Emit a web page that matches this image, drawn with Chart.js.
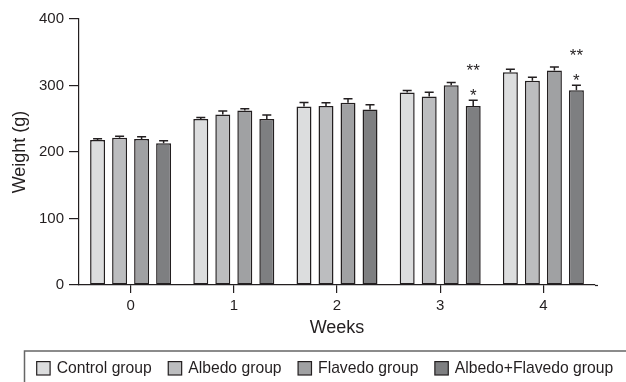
<!DOCTYPE html>
<html>
<head>
<meta charset="utf-8">
<script src="https://cdn.jsdelivr.net/npm/chart.js@4"></script>
<style>
  html, body { margin: 0; padding: 0; background: #fff; }
  #wrap { width: 626px; height: 382px; }
</style>
</head>
<body>
<div id="wrap"><canvas id="chart" width="626" height="382"></canvas></div>
<script>
const weeks = ['0', '1', '2', '3', '4'];
const groupNames = ['Control group', 'Albedo group', 'Flavedo group', 'Albedo+Flavedo group'];
const groupColors = ['#dcddde', '#bcbdbf', '#a0a1a3', '#7e7f81'];

const controlMean = [218, 249.5, 268.5, 289.5, 320];
const albedoMean = [221.5, 256.5, 269, 283.5, 307];
const flavedoMean = [219.5, 262.5, 274, 300.5, 322.5];
const comboMean = [213, 249.5, 264, 269, 293];

const controlErr = [2, 2.5, 6, 3, 4.5];
const albedoErr = [2, 5, 5, 6.5, 5.5];
const flavedoErr = [3.5, 2.5, 6, 4, 5.5];
const comboErr = [4, 6, 7, 9, 7.5];

// significance marks above the Albedo+Flavedo bars
const comboSigNear = ['', '', '', '*', '*'];
const comboSigFar = ['', '', '', '**', '**'];

const yTicks = [0, 100, 200, 300, 400];

const ink = '#231f20';
const fontFamily = '"Liberation Sans", Arial, Helvetica, sans-serif';

const means = [controlMean, albedoMean, flavedoMean, comboMean];
const errs = [controlErr, albedoErr, flavedoErr, comboErr];

const errorBars = {
  id: 'errorBars',
  afterDatasetsDraw(chart) {
    const ctx = chart.ctx;
    const y = chart.scales.y;
    ctx.save();
    ctx.strokeStyle = ink;
    ctx.lineWidth = 1.5;
    chart.data.datasets.forEach((ds, i) => {
      const meta = chart.getDatasetMeta(i);
      meta.data.forEach((bar, j) => {
        const top = y.getPixelForValue(ds.data[j] + errs[i][j]);
        ctx.beginPath();
        ctx.moveTo(bar.x, bar.y);
        ctx.lineTo(bar.x, top);
        ctx.moveTo(bar.x - 4.5, top);
        ctx.lineTo(bar.x + 4.5, top);
        ctx.stroke();
      });
    });
    // asterisks
    const comboMeta = chart.getDatasetMeta(3);
    ctx.fillStyle = ink;
    ctx.font = '17px ' + fontFamily;
    ctx.textAlign = 'center';
    ctx.textBaseline = 'alphabetic';
    comboMeta.data.forEach((bar, j) => {
      const top = y.getPixelForValue(comboMean[j] + comboErr[j]);
      if (comboSigNear[j]) ctx.fillText(comboSigNear[j], bar.x, top - 9 + 10);
      if (comboSigFar[j]) ctx.fillText(comboSigFar[j], bar.x, top - 34 + 10);
    });
    ctx.restore();
  }
};

const boxLegend = {
  id: 'boxLegend',
  afterDraw(chart) {
    const ctx = chart.ctx;
    const area = chart.chartArea;
    ctx.save();
    // x axis runs a little past the last category
    ctx.strokeStyle = ink;
    ctx.lineWidth = 1.2;
    ctx.beginPath();
    ctx.moveTo(area.right, area.bottom + 0.5);
    ctx.lineTo(area.right + 3, area.bottom + 0.5);
    ctx.stroke();

    ctx.strokeStyle = '#666';
    ctx.lineWidth = 1.5;
    ctx.strokeRect(24.5, 351, 700, 100);
    ctx.font = '15.7px ' + fontFamily;
    ctx.textBaseline = 'middle';
    ctx.textAlign = 'left';
    let x = 36.7;
    const cy = 368.3;
    chart.data.datasets.forEach((ds) => {
      ctx.fillStyle = ds.backgroundColor;
      ctx.fillRect(x, cy - 6.7, 13.4, 13.4);
      ctx.strokeStyle = ink;
      ctx.lineWidth = 1.2;
      ctx.strokeRect(x, cy - 6.7, 13.4, 13.4);
      ctx.fillStyle = ink;
      ctx.fillText(ds.label, x + 20, cy + 0.5);
      x += 20 + ctx.measureText(ds.label).width + 16.5;
    });
    ctx.restore();
  }
};

new Chart(document.getElementById('chart'), {
  type: 'bar',
  data: {
    labels: weeks,
    datasets: groupNames.map((name, i) => ({
      label: name,
      data: means[i],
      backgroundColor: groupColors[i],
      borderColor: ink,
      borderWidth: 1.5,
      borderSkipped: false,
      categoryPercentage: 0.853,
      barPercentage: 0.68
    }))
  },
  options: {
    responsive: false,
    animation: false,
    devicePixelRatio: 1,
    layout: { padding: { left: 0, right: 31, top: 19, bottom: 43 } },
    plugins: {
      legend: { display: false },
      tooltip: { enabled: false }
    },
    scales: {
      x: {
        afterFit: (s) => { s.height = 54; },
        grid: { display: true, drawOnChartArea: false, offset: false, tickLength: 8, color: ink, lineWidth: 1.2 },
        border: { display: true, color: ink, width: 1.2 },
        ticks: { color: ink, font: { size: 15, family: fontFamily }, padding: 4 },
        title: { display: true, text: 'Weeks', color: ink, font: { size: 18, family: fontFamily }, padding: 0 }
      },
      y: {
        min: 0,
        max: 400,
        afterFit: (s) => { s.width = 79; },
        afterBuildTicks: (s) => { s.ticks = yTicks.map(v => ({ value: v })); },
        grid: { display: true, drawOnChartArea: false, tickLength: 10, color: ink, lineWidth: 1.2 },
        border: { display: true, color: ink, width: 1.2 },
        ticks: { color: ink, font: { size: 15, family: fontFamily }, padding: 5 },
        title: { display: true, text: 'Weight (g)', color: ink, font: { size: 18, family: fontFamily }, padding: { top: 9, bottom: 0 } }
      }
    }
  },
  plugins: [errorBars, boxLegend]
});
</script>
</body>
</html>
